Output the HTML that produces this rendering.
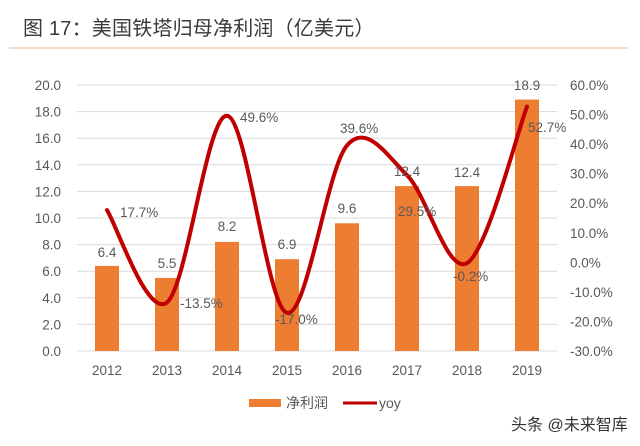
<!DOCTYPE html>
<html><head><meta charset="utf-8"><style>
html,body{margin:0;padding:0;background:#fff;}
svg{display:block;}
text{font-family:"Liberation Sans","Noto Sans CJK SC",sans-serif;}
</style></head><body>
<svg width="640" height="446" viewBox="0 0 640 446" xmlns="http://www.w3.org/2000/svg">
<rect width="640" height="446" fill="#fff"/>
<text x="23" y="35" font-size="20" letter-spacing="0.2" fill="#3a3a3a">图 17：美国铁塔归母净利润（亿美元）</text>
<line x1="9" y1="48" x2="628" y2="48" stroke="#efcfb0" stroke-width="1.5"/>
<g stroke="#d9d9d9" stroke-width="1">
<line x1="77" y1="85" x2="557" y2="85"/>
<line x1="77" y1="111.6" x2="557" y2="111.6"/>
<line x1="77" y1="138.2" x2="557" y2="138.2"/>
<line x1="77" y1="164.8" x2="557" y2="164.8"/>
<line x1="77" y1="191.4" x2="557" y2="191.4"/>
<line x1="77" y1="218" x2="557" y2="218"/>
<line x1="77" y1="244.6" x2="557" y2="244.6"/>
<line x1="77" y1="271.2" x2="557" y2="271.2"/>
<line x1="77" y1="297.8" x2="557" y2="297.8"/>
<line x1="77" y1="324.4" x2="557" y2="324.4"/>
<line x1="77" y1="351" x2="557" y2="351"/>
</g>
<g font-size="13.5" fill="#595959" text-anchor="end">
<text x="61" y="90">20.0</text>
<text x="61" y="116.6">18.0</text>
<text x="61" y="143.2">16.0</text>
<text x="61" y="169.8">14.0</text>
<text x="61" y="196.4">12.0</text>
<text x="61" y="223">10.0</text>
<text x="61" y="249.6">8.0</text>
<text x="61" y="276.2">6.0</text>
<text x="61" y="302.8">4.0</text>
<text x="61" y="329.4">2.0</text>
<text x="61" y="356">0.0</text>
</g>
<g font-size="13.5" fill="#595959" text-anchor="start">
<text x="570" y="90">60.0%</text>
<text x="570" y="119.6">50.0%</text>
<text x="570" y="149.1">40.0%</text>
<text x="570" y="178.7">30.0%</text>
<text x="570" y="208.2">20.0%</text>
<text x="570" y="237.8">10.0%</text>
<text x="570" y="267.3">0.0%</text>
<text x="570" y="296.9">-10.0%</text>
<text x="570" y="326.4">-20.0%</text>
<text x="570" y="356">-30.0%</text>
</g>
<g fill="#ed7d31">
<rect x="95" y="265.9" width="24" height="85.1"/>
<rect x="155" y="277.9" width="24" height="73.1"/>
<rect x="215" y="241.9" width="24" height="109.1"/>
<rect x="275" y="259.2" width="24" height="91.8"/>
<rect x="335" y="223.3" width="24" height="127.7"/>
<rect x="395" y="186.1" width="24" height="164.9"/>
<rect x="455" y="186.1" width="24" height="164.9"/>
<rect x="515" y="99.6" width="24" height="251.4"/>
</g>
<path d="M107,210.1 C117,225.5 147,318.1 167,302.4 C187,286.7 207,114.1 227,115.8 C247,117.5 267,307.9 287,312.8 C307,317.7 327,168.3 347,145.4 C367,122.5 387,155.6 407,175.2 C427,194.8 447,274.5 467,263.1 C487,251.7 517,132.7 527,106.6" fill="none" stroke="#c00000" stroke-width="4" stroke-linecap="round" stroke-linejoin="round"/>
<g font-size="13.5" fill="#595959" text-anchor="middle">
<text x="107" y="257">6.4</text>
<text x="167" y="268">5.5</text>
<text x="227" y="231">8.2</text>
<text x="287" y="249">6.9</text>
<text x="347" y="213">9.6</text>
<text x="407" y="176">12.4</text>
<text x="467" y="177">12.4</text>
<text x="527" y="90">18.9</text>
</g>
<g font-size="13.5" fill="#595959">
<text x="120" y="217">17.7%</text>
<text x="180" y="308">-13.5%</text>
<text x="240" y="122">49.6%</text>
<text x="275" y="324">-17.0%</text>
<text x="340" y="133">39.6%</text>
<text x="398" y="216">29.5%</text>
<text x="453" y="281">-0.2%</text>
<text x="528" y="132">52.7%</text>
</g>
<g font-size="13.5" fill="#595959" text-anchor="middle">
<text x="107" y="375">2012</text>
<text x="167" y="375">2013</text>
<text x="227" y="375">2014</text>
<text x="287" y="375">2015</text>
<text x="347" y="375">2016</text>
<text x="407" y="375">2017</text>
<text x="467" y="375">2018</text>
<text x="527" y="375">2019</text>
</g>
<rect x="249" y="399" width="32" height="8" fill="#ed7d31"/>
<text x="286" y="408" font-size="14" fill="#595959">净利润</text>
<line x1="343" y1="403" x2="377" y2="403" stroke="#c00000" stroke-width="3"/>
<text x="379" y="408" font-size="14" fill="#595959">yoy</text>
<text x="511" y="430" font-size="16" fill="#333">头条 @未来智库</text>
</svg>
</body></html>
